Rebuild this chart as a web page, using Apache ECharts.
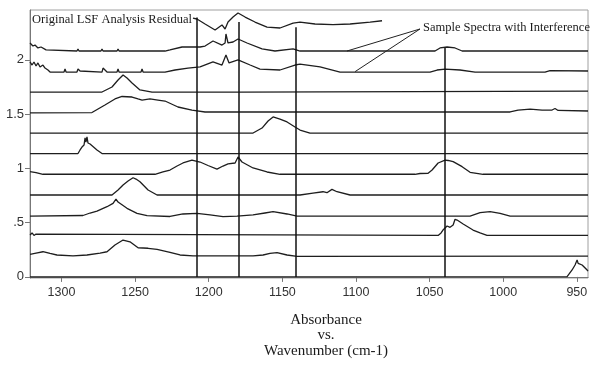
<!DOCTYPE html>
<html>
<head>
<meta charset="utf-8">
<script src="https://cdn.jsdelivr.net/npm/echarts@6/dist/echarts.min.js"></script>
<style>html,body{margin:0;padding:0;background:#fff}#c{width:600px;height:366px}</style>
</head>
<body>
<div id="c"></div>
<script>
// ---- data: [wavenumber (cm-1), absorbance] ----
const residual = [[1210.7,2.386],[1208.0,2.377],[1202.5,2.331],[1195.7,2.276],[1191.0,2.322],[1188.9,2.285],[1186.9,2.349],[1183.5,2.395],[1180.1,2.432],[1175.3,2.395],[1168.6,2.349],[1160.4,2.303],[1151.6,2.294],[1142.7,2.340],[1138.0,2.349],[1127.8,2.331],[1115.6,2.326],[1104.0,2.331],[1090.4,2.349],[1082.3,2.361]];
const sample1 = [[1321.4,2.156],[1319.4,2.128],[1318.0,2.137],[1316.0,2.110],[1313.9,2.119],[1312.6,2.110],[1310.5,2.092],[1309.2,2.082],[1289.5,2.082],[1288.8,2.101],[1288.1,2.082],[1273.2,2.082],[1272.5,2.101],[1271.8,2.082],[1262.3,2.082],[1261.6,2.101],[1260.9,2.082],[1229.7,2.082],[1226.3,2.092],[1218.1,2.119],[1205.9,2.119],[1202.5,2.128],[1197.1,2.174],[1191.0,2.137],[1188.9,2.156],[1188.3,2.239],[1186.9,2.156],[1183.5,2.165],[1180.1,2.193],[1174.0,2.156],[1163.8,2.101],[1155.0,2.082],[1142.7,2.101],[1138.0,2.082],[1046.3,2.082],[1042.9,2.110],[1038.1,2.119],[1032.7,2.110],[1027.9,2.082],[942.4,2.082]];
const sample2 = [[1321.4,1.981],[1320.0,1.953],[1318.7,1.981],[1317.3,1.944],[1316.0,1.972],[1314.6,1.935],[1312.6,1.953],[1311.2,1.925],[1309.2,1.907],[1307.8,1.888],[1298.3,1.888],[1297.6,1.916],[1296.9,1.888],[1289.5,1.888],[1288.8,1.916],[1287.4,1.898],[1286.1,1.888],[1272.5,1.888],[1271.8,1.925],[1270.5,1.907],[1269.1,1.888],[1262.3,1.888],[1261.6,1.916],[1260.9,1.888],[1246.0,1.888],[1245.3,1.916],[1244.6,1.888],[1229.7,1.888],[1222.9,1.907],[1214.1,1.925],[1205.9,1.935],[1197.1,1.981],[1191.0,1.953],[1188.3,2.045],[1186.2,1.972],[1180.1,2.000],[1171.9,1.953],[1165.2,1.916],[1151.6,1.907],[1141.4,1.953],[1138.0,1.962],[1124.4,1.935],[1110.8,1.888],[1049.7,1.888],[1044.9,1.907],[1039.5,1.916],[1029.3,1.907],[1019.1,1.888],[971.6,1.888],[968.2,1.902],[942.4,1.898]];
const comp1 = [[1321.4,1.704],[1272.5,1.704],[1265.7,1.750],[1261.6,1.815],[1258.2,1.861],[1255.5,1.833],[1252.1,1.787],[1246.7,1.723],[1238.5,1.704],[1178.7,1.704],[1177.4,1.713],[942.4,1.713]];
const comp2 = [[1321.4,1.511],[1279.3,1.515],[1270.5,1.584],[1263.7,1.640],[1258.9,1.663],[1252.1,1.658],[1248.0,1.640],[1245.3,1.630],[1239.9,1.640],[1234.5,1.630],[1229.7,1.621],[1220.9,1.566],[1211.4,1.538],[1202.5,1.520],[995.3,1.520],[989.9,1.538],[981.7,1.547],[973.6,1.538],[966.8,1.538],[964.8,1.552],[962.7,1.534],[942.4,1.529]];
const comp3 = [[1321.4,1.326],[1169.9,1.326],[1163.8,1.372],[1159.7,1.437],[1156.3,1.474],[1151.6,1.455],[1146.8,1.428],[1141.4,1.382],[1138.0,1.354],[1131.2,1.326],[942.4,1.326]];
const comp4 = [[1321.4,1.137],[1288.8,1.137],[1287.4,1.170],[1286.1,1.197],[1284.7,1.216],[1284.0,1.281],[1283.4,1.243],[1282.7,1.290],[1282.0,1.234],[1280.6,1.225],[1279.3,1.216],[1275.9,1.170],[1272.5,1.137],[942.4,1.137]];
const comp5 = [[1321.4,0.971],[1317.3,0.962],[1312.6,0.946],[1236.5,0.946],[1231.1,0.967],[1226.3,0.985],[1221.5,1.022],[1217.5,1.050],[1211.4,1.077],[1205.9,1.059],[1200.5,1.027],[1194.4,0.994],[1190.3,1.022],[1186.9,1.041],[1182.1,1.050],[1180.1,1.105],[1177.4,1.059],[1169.9,1.004],[1160.4,0.967],[1151.6,0.946],[1059.9,0.946],[1056.5,0.953],[1051.0,0.955],[1048.3,0.985],[1044.2,1.050],[1039.5,1.077],[1037.4,1.073],[1034.0,1.062],[1027.9,1.016],[1022.5,0.964],[1013.7,0.946],[942.4,0.946]];
const comp6 = [[1321.4,0.755],[1265.7,0.755],[1261.6,0.801],[1258.2,0.847],[1254.8,0.884],[1251.4,0.914],[1249.4,0.902],[1246.7,0.877],[1241.2,0.801],[1235.1,0.755],[1138.0,0.755],[1129.2,0.773],[1122.4,0.785],[1119.7,0.776],[1116.3,0.807],[1112.9,0.785],[1104.0,0.755],[942.4,0.755]];
const comp7 = [[1321.4,0.561],[1285.4,0.566],[1280.6,0.589],[1275.9,0.607],[1269.1,0.647],[1265.0,0.678],[1263.0,0.718],[1261.6,0.690],[1255.5,0.632],[1248.7,0.586],[1241.9,0.564],[1226.3,0.557],[1217.5,0.580],[1208.0,0.586],[1199.1,0.571],[1190.3,0.555],[1180.8,0.561],[1169.9,0.571],[1161.8,0.589],[1156.3,0.601],[1146.8,0.580],[1140.0,0.561],[1022.5,0.561],[1015.7,0.592],[1008.9,0.601],[1002.1,0.586],[995.3,0.561],[942.4,0.561]];
const comp8 = [[1321.4,0.386],[1320.0,0.405],[1318.7,0.382],[1317.3,0.395],[1316.0,0.382],[1044.2,0.382],[1042.2,0.405],[1040.9,0.432],[1038.1,0.469],[1036.1,0.457],[1034.0,0.478],[1032.7,0.531],[1031.3,0.524],[1027.2,0.488],[1020.5,0.432],[1015.7,0.405],[1011.0,0.382],[942.4,0.382]];
const comp9 = [[1321.4,0.208],[1317.3,0.220],[1312.6,0.232],[1307.8,0.216],[1303.1,0.202],[1292.2,0.193],[1282.7,0.202],[1273.8,0.220],[1269.1,0.232],[1263.7,0.294],[1258.2,0.340],[1253.5,0.324],[1248.0,0.269],[1241.2,0.264],[1235.1,0.254],[1226.3,0.227],[1219.5,0.202],[1210.7,0.193],[1169.9,0.193],[1163.1,0.202],[1158.4,0.216],[1153.6,0.223],[1146.8,0.202],[1140.0,0.190],[942.4,0.192]];
const comp10 = [[1321.4,0],[956.6,0.002],[953.2,0.064],[951.2,0.110],[949.8,0.156],[949.1,0.125],[946.4,0.110],[943.0,0.064],[942.4,0.054]];

// marker lines: wavenumber, top absorbance
const markerWn = [1208.0, 1179.4, 1140.7, 1040.0];
const markerTop = [2.39, 2.35, 2.30, 2.11];

// annotation pointer: from label point to the two sample spectra
const pointerFrom = [1056.5, 2.285];
const pointerTo = [[1106.1, 2.082], [1100.6, 1.892]];

const xTicks = [1300, 1250, 1200, 1150, 1100, 1050, 1000, 950];
const yTicks = [0, 0.5, 1, 1.5, 2];
const yTickLabels = ['0', '.5', '1', '1.5', '2'];

const traces = [residual, sample1, sample2, comp1, comp2, comp3, comp4, comp5, comp6, comp7, comp8, comp9, comp10];

const chart = echarts.init(document.getElementById('c'), null, {renderer: 'canvas'});
const lineColor = '#1e1e1e';
const series = traces.map(d => ({
  type: 'line', data: d, showSymbol: false, symbol: 'none', smooth: false,
  lineStyle: {color: lineColor, width: 1.3}, silent: true, animation: false
}));
series.push({
  type: 'line', data: [], silent: true, animation: false,
  markLine: {
    silent: true, symbol: ['none', 'none'], animation: false,
    label: {show: false},
    lineStyle: {color: '#111', width: 1.5, type: 'solid'},
    data: markerWn.map((w, i) => [{coord: [w, 0]}, {coord: [w, markerTop[i]]}])
  }
});
series.push({
  type: 'line', data: [], silent: true, animation: false,
  markLine: {
    silent: true, symbol: ['none', 'none'], animation: false,
    label: {show: false},
    lineStyle: {color: '#222', width: 1, type: 'solid'},
    data: pointerTo.map(p => [{coord: pointerFrom}, {coord: p}])
  }
});

const serif = '"Liberation Serif", "Times New Roman", serif';
chart.setOption({
  animation: false,
  backgroundColor: '#fff',
  grid: {left: 30, right: 12, top: 10, bottom: 88, show: true, borderColor: '#a0a0a0', borderWidth: 1},
  xAxis: {
    type: 'value', inverse: true, min: 942.4, max: 1321.4,
    axisLine: {show: true, lineStyle: {color: '#777', width: 1}},
    axisTick: {show: true, length: 5, lineStyle: {color: '#777'}, customValues: xTicks},
    axisLabel: {customValues: xTicks, color: '#333', fontSize: 12.5, margin: 8,
      fontFamily: '"Liberation Sans", Arial, sans-serif',
      formatter: v => String(Math.round(v))},
    splitLine: {show: false}
  },
  yAxis: {
    type: 'value', min: -0.01, max: 2.46,
    axisLine: {show: true, lineStyle: {color: '#777', width: 1}},
    axisTick: {show: true, length: 5, lineStyle: {color: '#777'}, customValues: yTicks},
    axisLabel: {customValues: yTicks, color: '#333', fontSize: 13, margin: 6,
      fontFamily: '"Liberation Sans", Arial, sans-serif',
      formatter: v => { const i = yTicks.indexOf(+v.toFixed(2)); return i >= 0 ? yTickLabels[i] : ''; }},
    splitLine: {show: false}
  },
  graphic: [
    {type: 'text', left: 32, top: 13, silent: true,
      style: {text: 'Original LSF Analysis Residual', font: '12.5px ' + serif, fill: '#1a1a1a'}},
    {type: 'text', left: 423, top: 21, silent: true,
      style: {text: 'Sample Spectra with Interference', font: '12.5px ' + serif, fill: '#1a1a1a'}},
    {type: 'text', x: 326, y: 312, silent: true,
      style: {text: 'Absorbance\nvs.\nWavenumber (cm-1)', font: '15px ' + serif, fill: '#1a1a1a',
        align: 'center', verticalAlign: 'top', lineHeight: 15.5}}
  ],
  series: series
});
</script>
</body>
</html>
